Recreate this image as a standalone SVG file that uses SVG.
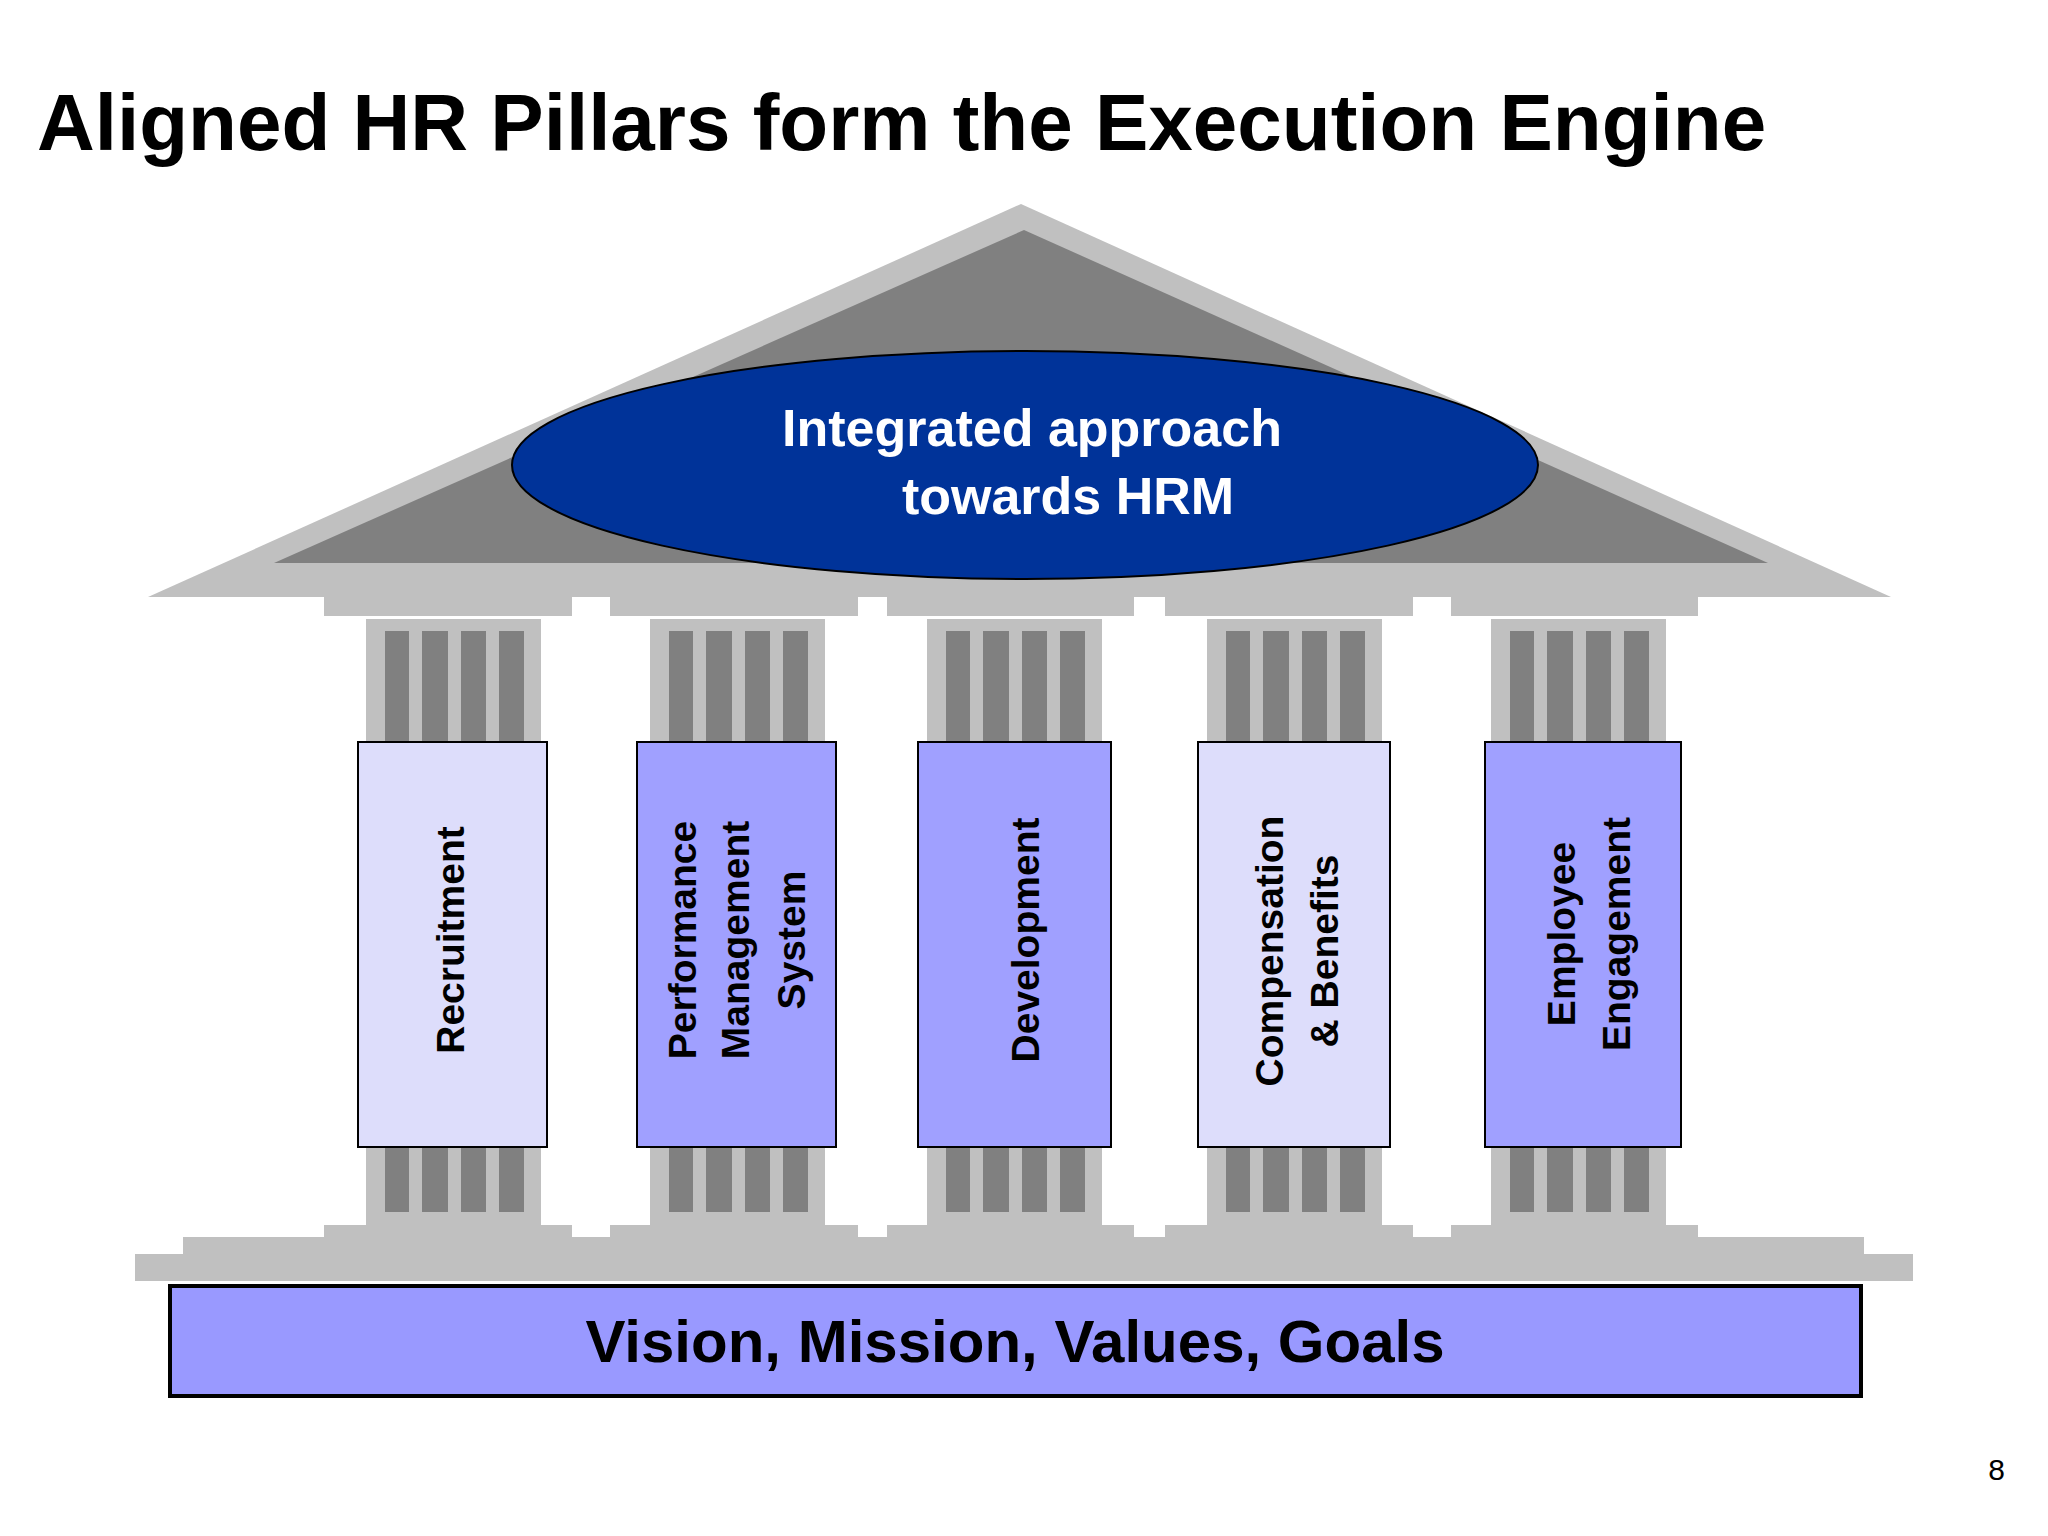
<svg xmlns="http://www.w3.org/2000/svg" width="2048" height="1536" viewBox="0 0 2048 1536">
<style>
.lt{fill:#C0C0C0}.dk{fill:#808080}
.lab{font-family:"Liberation Sans",Arial,sans-serif;font-weight:bold;font-size:39px;fill:#000;text-anchor:middle}
.pl{stroke:#000;stroke-width:2}
</style>
<defs>
<g id="col">
<rect class="lt" x="0" y="619" width="175" height="606"/>
<rect class="dk" x="19" y="631" width="24" height="581"/>
<rect class="dk" x="56" y="631" width="26" height="581"/>
<rect class="dk" x="95" y="631" width="25" height="581"/>
<rect class="dk" x="133" y="631" width="25" height="581"/>
</g>
</defs>
<rect width="2048" height="1536" fill="#fff"/>
<text x="37" y="150" font-family="Liberation Sans,Arial,sans-serif" font-weight="bold" font-size="80" fill="#000">Aligned HR Pillars form the Execution Engine</text>
<g id="roof">
<polygon class="lt" points="1021,204 148,597 1891,597"/>
<polygon class="dk" points="1024,230 274,563 1768,563"/>
<rect class="lt" x="324" y="597" width="248" height="19"/>
<rect class="lt" x="610" y="597" width="248" height="19"/>
<rect class="lt" x="887" y="597" width="247" height="19"/>
<rect class="lt" x="1165" y="597" width="248" height="19"/>
<rect class="lt" x="1451" y="597" width="247" height="19"/>
</g>
<g id="columns">
<use href="#col" x="366"/><use href="#col" x="650"/><use href="#col" x="927"/><use href="#col" x="1207"/><use href="#col" x="1491"/>
</g>
<g id="base">
<rect class="lt" x="324" y="1225" width="248" height="13"/>
<rect class="lt" x="610" y="1225" width="248" height="13"/>
<rect class="lt" x="887" y="1225" width="247" height="13"/>
<rect class="lt" x="1165" y="1225" width="248" height="13"/>
<rect class="lt" x="1451" y="1225" width="247" height="13"/>
<rect class="lt" x="183" y="1237" width="1681" height="17"/>
<rect class="lt" x="135" y="1254" width="1778" height="27"/>
</g>
<g id="hrm">
<ellipse cx="1025" cy="465" rx="513" ry="114" fill="#003399" stroke="#000" stroke-width="2"/>
<text font-family="Liberation Sans,Arial,sans-serif" font-weight="bold" font-size="52" fill="#fff" text-anchor="middle"><tspan x="1032" y="446">Integrated approach</tspan><tspan x="1068" y="514">towards HRM</tspan></text>
</g>
<g id="recruitment"><rect class="pl" x="358" y="742" width="189" height="405" fill="#DDDDFB"/>
<text class="lab" transform="translate(450,940) rotate(-90)" dy="0.35em">Recruitment</text></g>
<g id="pms"><rect class="pl" x="637" y="742" width="199" height="405" fill="#A0A0FF"/>
<text class="lab" transform="translate(0,940) rotate(-90)"><tspan x="0" y="696">Performance</tspan><tspan x="0" y="749">Management</tspan><tspan x="0" y="805">System</tspan></text></g>
<g id="development"><rect class="pl" x="918" y="742" width="193" height="405" fill="#A0A0FF"/>
<text class="lab" transform="translate(1025,940) rotate(-90)" dy="0.35em">Development</text></g>
<g id="comp"><rect class="pl" x="1198" y="742" width="192" height="405" fill="#DDDDFB"/>
<text class="lab" transform="translate(0,951) rotate(-90)"><tspan x="0" y="1283">Compensation</tspan><tspan x="0" y="1338">&amp; Benefits</tspan></text></g>
<g id="engagement"><rect class="pl" x="1485" y="742" width="196" height="405" fill="#A0A0FF"/>
<text class="lab" transform="translate(0,934) rotate(-90)"><tspan x="0" y="1575">Employee</tspan><tspan x="0" y="1630">Engagement</tspan></text></g>
<g id="vision"><rect x="170" y="1286" width="1691" height="110" fill="#9999FF" stroke="#000" stroke-width="4"/>
<text x="1015" y="1362" font-family="Liberation Sans,Arial,sans-serif" font-weight="bold" font-size="60" fill="#000" text-anchor="middle">Vision, Mission, Values, Goals</text></g>
<text x="2005" y="1480" font-family="Liberation Sans,Arial,sans-serif" font-size="30" fill="#000" text-anchor="end">8</text>
<g id="connectors"/>
</svg>
